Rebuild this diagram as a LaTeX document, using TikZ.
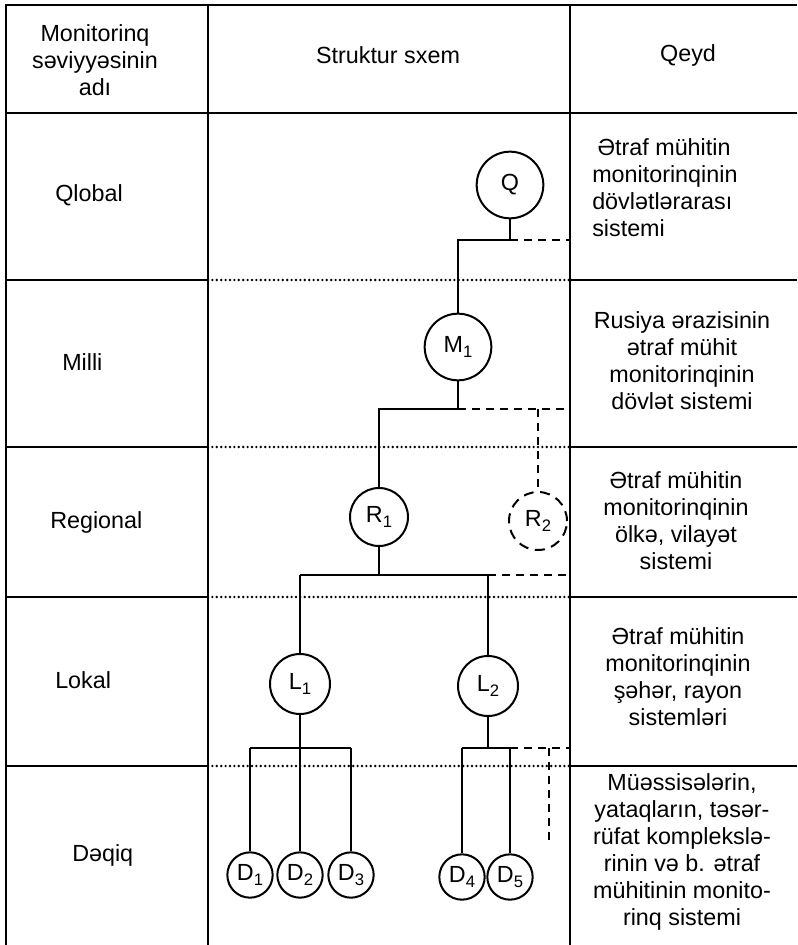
\documentclass[tikz,border=0pt]{standalone}
\usepackage{fontspec}
\setmainfont{Liberation Sans}
\newcommand{\lowidx}[1]{\raisebox{-0.45ex}{\fontsize{12.5}{12.5}\selectfont #1}}
\begin{document}
\begin{tikzpicture}[x=0.75pt,y=-0.75pt,
  txt/.style={inner sep=0pt, align=center, font=\fontsize{17.5}{20.2}\selectfont},
  rule/.style={line width=1.5pt},
  tree/.style={line width=1.5pt},
  dotrow/.style={line width=2pt, line cap=round, dash pattern=on 0pt off 3.3pt},
  dsh/.style={line width=1.5pt, dash pattern=on 6pt off 4.5pt},
  lvl/.style={circle, draw, line width=1.5pt, inner sep=0pt, font=\fontsize{17.5}{17.5}\selectfont},
  bigc/.style={lvl, minimum size=50pt},
  midc/.style={lvl, minimum size=43.5pt},
  locc/.style={lvl, minimum size=45pt},
  smc/.style={lvl, minimum size=34pt}]
\useasboundingbox (0,0) rectangle (797,945);

% table frame
\draw[rule] (6,945) -- (6,5) -- (797,5);
\draw[rule] (208,5) -- (208,945);
\draw[rule] (570,5) -- (570,945);
\draw[rule] (6,113) -- (797,113);
\foreach \yy in {280,447,597,766}{
  \draw[rule] (6,\yy) -- (208,\yy);
  \draw[rule] (570,\yy) -- (797,\yy);
  \draw[dotrow] (208,\yy) -- (570,\yy);
}

% header
\node[txt] (h1) at (95,60) {Monitorinq\\səviyyəsinin\\adı};
\node[txt] (h2) at (388,55) {Struktur sxem};
\node[txt] (h3) at (688,55) {Qeyd};

% level names
\node[txt, anchor=west] (n1) at (55,195) {Qlobal};
\node[txt, anchor=west] (n2) at (62,362) {Milli};
\node[txt, anchor=west] (n3) at (50,522) {Regional};
\node[txt, anchor=west] (n4) at (55,680) {Lokal};
\node[txt, anchor=west] (n5) at (72,855) {Dəqiq};

% remarks
\node[txt, anchor=west, align=left] (r1) at (592,188) {\hspace*{4pt}Ətraf mühitin\\monitorinqinin\\dövlətlərarası\\sistemi};
\node[txt] (r2) at (682,361) {Rusiya ərazisinin\\ətraf mühit\\monitorinqinin\\dövlət sistemi};
\node[txt] (r3) at (676,521) {Ətraf mühitin\\monitorinqinin\\ölkə, vilayət\\sistemi};
\node[txt] (r4) at (678,677) {Ətraf mühitin\\monitorinqinin\\şəhər, rayon\\sistemləri};
\node[txt] (r5) at (682,852) {Müəssisələrin,\\yataqların, təsər-\\rüfat komplekslə-\\rinin və b. ətraf\\mühitinin monito-\\rinq sistemi};

% structure nodes
\node[bigc] (Q)  at (510,185) {Q};
\node[bigc] (M1) at (458,347) {M\lowidx{1}};
\node[midc] (R1) at (379,517) {R\lowidx{1}};
\node[midc, dash pattern=on 7.5pt off 5pt] (R2) at (538,521) {R\lowidx{2}};
\node[locc] (L1) at (300,684) {L\lowidx{1}};
\node[locc] (L2) at (488,686) {L\lowidx{2}};
\node[smc] (D1) at (250,875) {D\lowidx{1}};
\node[smc] (D2) at (300,875) {D\lowidx{2}};
\node[smc] (D3) at (351,875) {D\lowidx{3}};
\node[smc] (D4) at (462,877) {D\lowidx{4}};
\node[smc] (D5) at (510,877) {D\lowidx{5}};

% junction points
\coordinate (jQ)  at (510,240);
\coordinate (jQa) at (458,240);
\coordinate (jQb) at (570,240);
\coordinate (jM)  at (458,409);
\coordinate (jMa) at (379,409);
\coordinate (jMb) at (570,409);
\coordinate (jR2) at (538,409);
\coordinate (jR)  at (379,575);
\coordinate (jRa) at (300,575);
\coordinate (jRb) at (488,575);
\coordinate (jRc) at (570,575);
\coordinate (jL1) at (300,748);
\coordinate (jL1a) at (250,748);
\coordinate (jL1b) at (351,748);
\coordinate (jL2) at (488,748);
\coordinate (jL2a) at (462,748);
\coordinate (jL2b) at (510,748);
\coordinate (jL2c) at (570,748);
\coordinate (jV)  at (549,748);
\coordinate (jVe) at (549,842);

% connectors
\draw[tree] (Q) -- (jQ) -- (jQa) -- (M1);
\draw[dsh] (jQ) -- (jQb);
\draw[tree] (M1) -- (jM) -- (jMa) -- (R1);
\draw[dsh] (jM) -- (jMb);
\draw[dsh] (jR2) -- (R2);
\draw[tree] (R1) -- (jR);
\draw[tree] (jRa) -- (jRb);
\draw[dsh] (jRb) -- (jRc);
\draw[tree] (jRa) -- (L1);
\draw[tree] (jRb) -- (L2);
\draw[tree] (L1) -- (jL1);
\draw[tree] (jL1a) -- (jL1b);
\draw[tree] (jL1a) -- (D1);
\draw[tree] (jL1) -- (D2);
\draw[tree] (jL1b) -- (D3);
\draw[tree] (L2) -- (jL2);
\draw[tree] (jL2a) -- (jL2b);
\draw[tree] (jL2a) -- (D4);
\draw[tree] (jL2b) -- (D5);
\draw[dsh] (jL2b) -- (jL2c);
\draw[dsh] (jV) -- (jVe);
\end{tikzpicture}
\end{document}
